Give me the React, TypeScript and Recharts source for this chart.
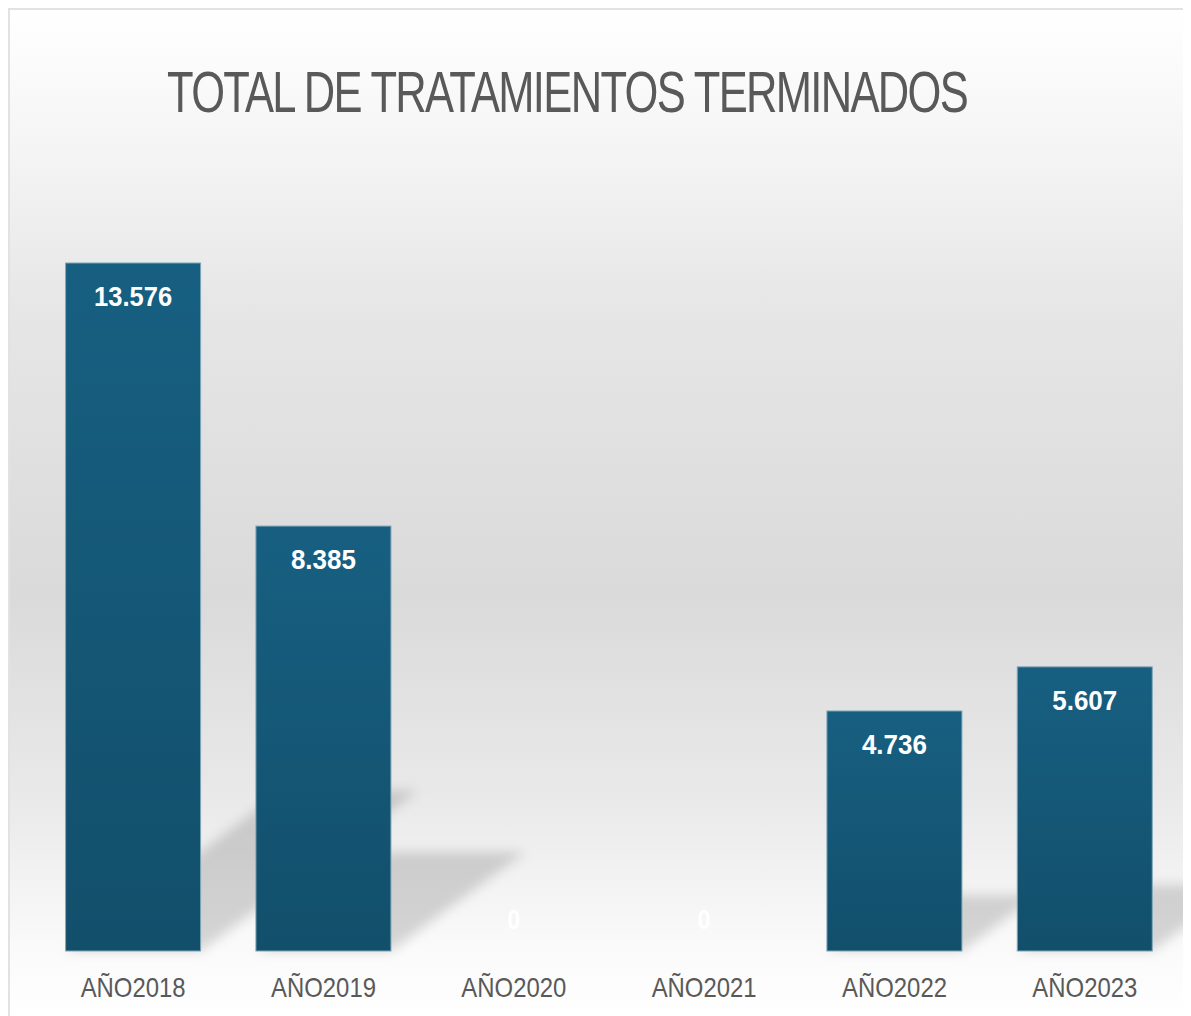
import React from "react";
import { BarChart, Bar, XAxis, YAxis } from "recharts";

const years = ["AÑO2018", "AÑO2019", "AÑO2020", "AÑO2021", "AÑO2022", "AÑO2023"];
const totals = [13576, 8385, 0, 0, 4736, 5607];
const labels = ["13.576", "8.385", "0", "0", "4.736", "5.607"];
const title = "TOTAL DE TRATAMIENTOS TERMINADOS";

const data = years.map((year, i) => ({ year, total: totals[i], label: labels[i] }));

const W = 1176;
const H = 1008;

// bar with its slanted floor shadow drawn behind
const ShadowBar = (props: any) => {
    const { x, y, width, height } = props;
    if (!height || height <= 0) return null;
    const base = y + height;
    const dx = height * 0.316;
    const dy = height * 0.233;
    const pts = `${x},${base} ${x + width},${base} ${x + width + dx},${base - dy} ${x + dx},${base - dy}`;
    return (
        <g>
            <polygon points={pts} fill="rgba(0,0,0,0.15)" filter="url(#shadowBlur)" />
            <rect x={x} y={y} width={width} height={height} fill="url(#barFill)" stroke="#7fa6b8" strokeWidth={1} />
        </g>
    );
};

const ValueLabel = (props: any) => {
    const { x, y, width, height, index } = props;
    const text = labels[index];
    const cy = height > 0 ? y + 43 : y - 22;
    return (
        <text
            x={x + width / 2}
            y={cy}
            textAnchor="middle"
            fill="#ffffff"
            fontFamily="'Liberation Sans', Arial, sans-serif"
            fontWeight="bold"
            fontSize={28}
            textLength={text.length * 13}
            lengthAdjust="spacingAndGlyphs"
        >
            {text}
        </text>
    );
};

const YearTick = (props: any) => {
    const { x, y, payload } = props;
    return (
        <text
            x={x}
            y={y + 38}
            textAnchor="middle"
            fill="#595959"
            fontFamily="'Liberation Sans', Arial, sans-serif"
            fontSize={28}
            textLength={105}
            lengthAdjust="spacingAndGlyphs"
        >
            {payload.value}
        </text>
    );
};

export default function App() {
    return (
        <div
            style={{
                position: "relative",
                width: W,
                height: H,
                borderTop: "2px solid #e2e2e2",
                borderLeft: "2px solid #e2e2e2",
                background:
                    "linear-gradient(to bottom, #ffffff 0%, #f6f6f6 12%, #e6e6e6 30%, #dadada 58%, #e9e9e9 78%, #fafafa 93%, #ffffff 100%)",
                overflow: "hidden",
            }}
        >
            <div style={{ position: "absolute", left: 0, top: 0 }}>
                <BarChart
                    width={W}
                    height={H}
                    data={data}
                    margin={{ top: 253, right: 6, left: 28, bottom: 7 }}
                    barCategoryGap="14.5%"
                >
                    <defs>
                        <linearGradient id="barFill" x1="0" y1="0" x2="0" y2="1">
                            <stop offset="0%" stopColor="#175f81" />
                            <stop offset="100%" stopColor="#124f6b" />
                        </linearGradient>
                        <filter id="shadowBlur" x="-20%" y="-20%" width="140%" height="140%">
                            <feGaussianBlur stdDeviation="6" />
                        </filter>
                    </defs>
                    <XAxis
                        dataKey="year"
                        axisLine={false}
                        tickLine={false}
                        height={60}
                        interval={0}
                        tick={<YearTick />}
                    />
                    <YAxis hide domain={[0, 13576]} />
                    <Bar
                        dataKey="total"
                        isAnimationActive={false}
                        shape={<ShadowBar />}
                        label={<ValueLabel />}
                    />
                </BarChart>
            </div>
            <svg width={W} height={200} style={{ position: "absolute", left: 0, top: 0 }}>
                <g transform="translate(157,102) scale(0.75,1)">
                    <text
                        x={0}
                        y={0}
                        fill="#595959"
                        fontFamily="'Liberation Sans', Arial, sans-serif"
                        fontSize={58}
                        letterSpacing={-2.2}
                    >
                        {title}
                    </text>
                </g>
            </svg>
        </div>
    );
}
